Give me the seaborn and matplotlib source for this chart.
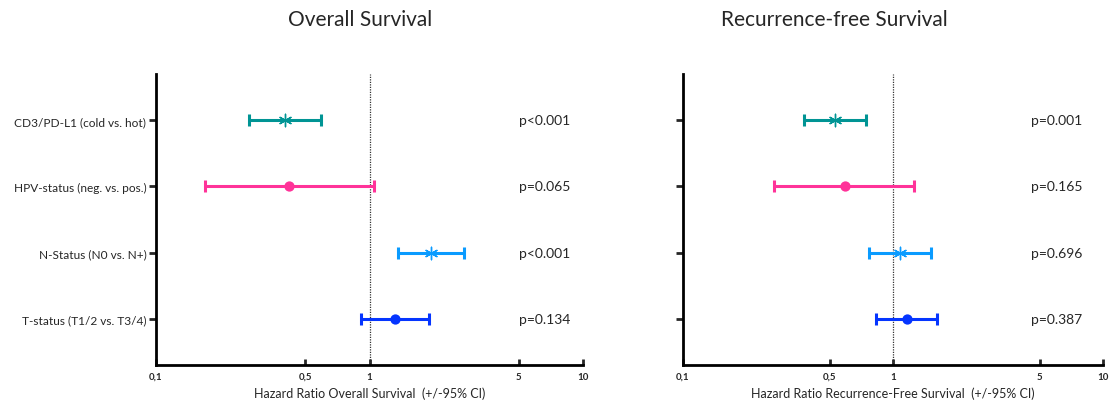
import numpy as np
import pandas as pd
import matplotlib
matplotlib.use("Agg")
import matplotlib.pyplot as plt
import seaborn as sns

# Data
factors = ["CD3/PD-L1 (cold vs. hot)", "HPV-status (neg. vs. pos.)",
           "N-Status (N0 vs. N+)", "T-status (T1/2 vs. T3/4)"]
colors = ["#009494", "#FF3399", "#0A9BFF", "#0535FF"]
markers = [(6, 2, 0), "o", (6, 2, 0), "o"]

os_hr = [0.40, 0.42, 1.94, 1.32]
os_lo = [0.272, 0.169, 1.36, 0.914]
os_hi = [0.594, 1.055, 2.77, 1.90]
os_p = ["p<0.001", "p=0.065", "p<0.001", "p=0.134"]

rfs_hr = [0.53, 0.59, 1.08, 1.17]
rfs_lo = [0.379, 0.273, 0.766, 0.835]
rfs_hi = [0.744, 1.264, 1.52, 1.63]
rfs_p = ["p=0.001", "p=0.165", "p=0.696", "p=0.387"]

xticks = [0.1, 0.5, 1, 5, 10]
xticklabels = ["0,1", "0,5", "1", "5", "10"]

sns.set_theme(style="ticks")
plt.rcParams["font.family"] = ["Lato", "DejaVu Sans"]

fig = plt.figure(figsize=(11.09, 4.06), dpi=100)
ax1 = fig.add_axes([0.1407, 0.0985, 0.385, 0.7167])
ax2 = fig.add_axes([0.6158, 0.0985, 0.3786, 0.7167])


def draw_panel(ax, hr, lo, hi, pvals, xlabel, show_labels, p_x):
    df = pd.DataFrame({"factor": factors, "hr": hr, "lo": lo, "hi": hi,
                       "y": np.arange(len(factors))})
    for i, row in df.iterrows():
        ax.errorbar(row["hr"], row["y"],
                    xerr=[[row["hr"] - row["lo"]], [row["hi"] - row["hr"]]],
                    fmt="none", ecolor=colors[i], elinewidth=2.2,
                    capsize=4.5, capthick=2.2, zorder=2)
        is_dot = markers[i] == "o"
        sns.scatterplot(x=[row["hr"]], y=[row["y"]], ax=ax, color=colors[i],
                        marker=markers[i], s=55 if is_dot else 80,
                        linewidth=0 if is_dot else 1.0,
                        edgecolor=colors[i], zorder=3, legend=False)
        ax.text(p_x, row["y"], pvals[i], transform=ax.get_yaxis_transform(),
                ha="center", va="center", fontsize=10)
    ax.axvline(1, color="#333333", linestyle=(0, (1, 1)), linewidth=0.9, zorder=1)
    ax.set_xscale("log")
    ax.set_xlim(0.1, 10)
    ax.set_ylim(3.7, -0.7)
    ax.set_xticks(xticks)
    ax.set_xticklabels(xticklabels, fontsize=7, fontweight="bold")
    ax.minorticks_off()
    ax.set_yticks(df["y"])
    if show_labels:
        ax.set_yticklabels(factors, fontsize=8.6)
    else:
        ax.set_yticklabels([""] * len(factors))
    ax.set_xlabel(xlabel, fontsize=9, labelpad=4)
    ax.set_ylabel("")
    sns.despine(ax=ax)
    for side in ["left", "bottom"]:
        ax.spines[side].set_linewidth(2)
        ax.spines[side].set_color("black")
    ax.tick_params(axis="x", direction="in", length=4, width=2, pad=5)
    ax.tick_params(axis="y", direction="out", length=5, width=2, pad=2)


draw_panel(ax1, os_hr, os_lo, os_hi, os_p,
           "Hazard Ratio Overall Survival  (+/-95% CI)", True, 0.91)
draw_panel(ax2, rfs_hr, rfs_lo, rfs_hi, rfs_p,
           "Hazard Ratio Recurrence-Free Survival  (+/-95% CI)", False, 0.89)

fig.text(360 / 1109, 1 - 20 / 406, "Overall Survival", ha="center", va="center",
         fontsize=15)
fig.text(834 / 1109, 1 - 20 / 406, "Recurrence-free Survival", ha="center",
         va="center", fontsize=15)

fig.savefig("out.png", dpi=100)
